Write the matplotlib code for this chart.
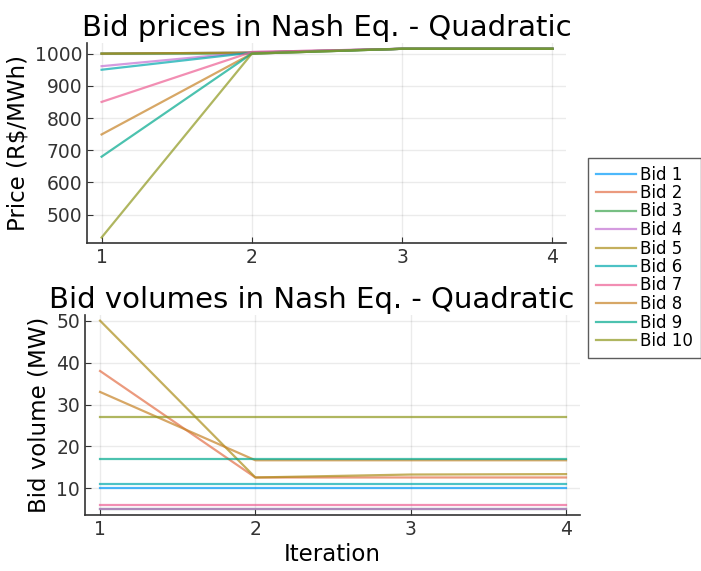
import matplotlib
matplotlib.use("Agg")
import matplotlib.pyplot as plt

iterations = [1, 2, 3, 4]
bid_labels = [f"Bid {i}" for i in range(1, 11)]
colors = ["#009AFA", "#E36F47", "#3EA44E", "#C371D2", "#AC8D18",
          "#00A9AD", "#ED5E93", "#C68225", "#00A98D", "#8E971D"]

prices = [
    [1000, 1003, 1015, 1015],
    [1000, 1003, 1015, 1015],
    [1000, 1000, 1015, 1015],
    [961, 1005, 1015, 1015],
    [1000, 1003, 1015, 1015],
    [950, 1003, 1015, 1015],
    [850, 1005, 1015, 1015],
    [749, 1000, 1015, 1015],
    [680, 1000, 1015, 1015],
    [429, 1000, 1015, 1015],
]

volumes = [
    [10, 10, 10, 10],
    [38, 12.6, 12.6, 12.6],
    [5, 5, 5, 5],
    [5, 5, 5, 5],
    [50, 12.6, 13.3, 13.4],
    [11, 11, 11, 11],
    [6, 6, 6, 6],
    [33, 16.7, 16.7, 16.7],
    [17, 17, 17, 17],
    [27, 27, 27, 27],
]

W, H = 701, 571
fig = plt.figure(figsize=(W / 100, H / 100), dpi=100)

def make_ax(left, top, right, bottom):
    return fig.add_axes([left / W, 1 - bottom / H, (right - left) / W, (bottom - top) / H])

ax1 = make_ax(87, 43, 566, 243)
ax2 = make_ax(85, 315, 580, 515)

for ax in (ax1, ax2):
    for s in ("top", "right"):
        ax.spines[s].set_visible(False)
    for s in ("left", "bottom"):
        ax.spines[s].set_color("#333333")
        ax.spines[s].set_linewidth(1.2)
    ax.grid(True, color="#000000", alpha=0.08, linewidth=1)
    ax.tick_params(direction="in", length=4, labelsize=13.5, colors="#333333", labelcolor="#333333")
    ax.set_xticks(iterations)
    ax.set_xlim(0.903, 4.09)

lines = []
for i in range(10):
    l, = ax1.plot(iterations, prices[i], color=colors[i], alpha=0.7, lw=1.6, label=bid_labels[i])
    lines.append(l)
    ax2.plot(iterations, volumes[i], color=colors[i], alpha=0.7, lw=1.6)

ax1.set_ylim(412, 1033)
ax1.set_yticks([500, 600, 700, 800, 900, 1000])
ax2.set_ylim(3.65, 51.35)
ax2.set_yticks([10, 20, 30, 40, 50])

ax1.set_title("Bid prices in Nash Eq. - Quadratic", fontsize=21, pad=5)
ax2.set_title("Bid volumes in Nash Eq. - Quadratic", fontsize=21, pad=5,
              x=(312 - 85) / (580 - 85))
ax1.set_ylabel("Price (R$/MWh)", fontsize=16.5, labelpad=4)
ax2.set_ylabel("Bid volume (MW)", fontsize=16.5, labelpad=4)
ax2.set_xlabel("Iteration", fontsize=16.5, labelpad=3)

leg = fig.legend(handles=lines, labels=bid_labels, loc="upper left",
                 bbox_to_anchor=(588 / W, 1 - 158 / H), fontsize=12,
                 frameon=True, fancybox=False, borderpad=0.45, labelspacing=0.03,
                 handlelength=2.4, handletextpad=0.3, borderaxespad=0)
leg.get_frame().set_edgecolor("#333333")
leg.get_frame().set_linewidth(1.0)

fig.savefig("out.png", dpi=100)
